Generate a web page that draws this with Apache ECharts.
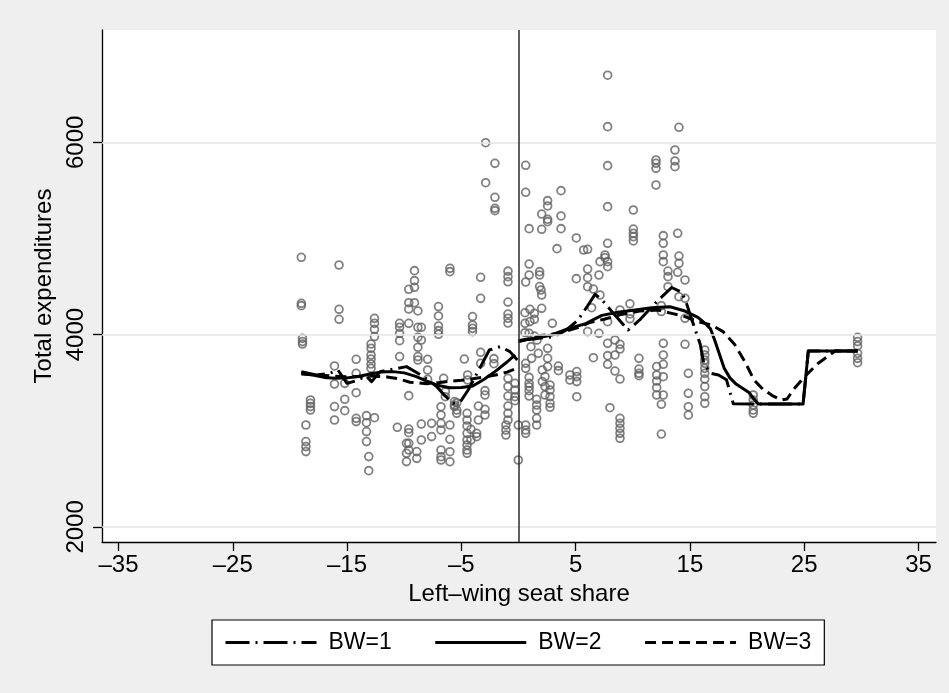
<!DOCTYPE html>
<html><head><meta charset="utf-8">
<script src="https://cdn.jsdelivr.net/npm/echarts@6/dist/echarts.min.js"></script>
<style>html,body{margin:0;padding:0;background:#efefef}#c{width:949px;height:693px}</style>
</head><body><div id="c"></div>
<script>
// ---- tick labels ----
const xTicks = [-35, -25, -15, -5, 5, 15, 25, 35];
const yTicks = [2000, 4000, 6000];
const cutoff = 0;

// ---- scatter: seat-share columns and their expenditure values ----
const columnX = [-19.0,-18.9,-18.6,-18.2,-16.1,-15.7,-15.2,-14.2,-13.3,-13.1,-12.9,-12.6,-10.6,-10.4,-9.8,-9.6,-9.1,-8.9,-8.8,-8.5,-7.95,-7.6,-7.0,-6.78,-6.55,-6.4,-6.0,-5.6,-5.4,-4.74,-4.5,-4.45,-4.16,-4.02,-3.66,-3.51,-3.31,-2.93,-2.87,-2.15,-2.06,-1.1,-0.92,-0.31,-0.02,0.57,0.63,0.93,1.0,1.09,1.15,1.39,1.59,1.62,1.74,1.85,1.97,2.03,2.08,2.32,2.55,2.76,2.96,3.37,3.49,3.72,4.5,5.06,5.1,5.7,6.05,6.4,6.55,7.04,7.13,7.57,7.8,8.0,8.44,8.88,9.75,10.05,10.54,12.03,12.09,12.5,12.67,13.08,13.69,13.93,14.04,14.57,14.86,16.3,20.54,29.67];
const columnY = [
 [4804,4325,4301],[3961,3927,3902],[3060,2887,2835,2783],[3320,3285,3251,3216],
 [3674,3486,3251,3112],[4724,4263,4159],[3493,3327,3209],[3743,3597,3396,3129,3095],
 [3157,3084,2991,2887],[2731,2585],[3902,3857,3788,3746,3694,3649,3563],[4169,4117,4055,3979,3136],
 [3036],[4117,4076,4013,3937,3771],[2869,2765,2679],[4471,4332,4266,4117,3365,3018,2980,2869,2800],
 [4665,4561,4492,4332],[2783,2713],[4246,4076,3972,3868,3771,3736],[4076,3944,3070,2904],
 [3743,3632,3535],[3077,2939],[4291,4194,4090,4041,4003],[3250,3164,3077,3008,2800,2730,2696],
 [3545],[3406,3354],[4689,4655,3060,2911,2782,2678],[3303,3268,3250],[3292,3216,3181],
 [3746],[3181,3112,3050,2973,2904,2852,2800,2765],[3580,3528],[3015,2904],[4187,4100,4065,4031],
 [2973,2938],[3257,3112],[4596,4377,3816,3701],[3417,3372,3223,3164],[5996,5580],[3750,3698],
 [5781,5428,5313,5289],[3060,3008,2956],[4660,4603,4549,4338,4214,4170,4120,3545,3459,3361,3257,3181,3112],
 [3493,3424,3354,3313],[3060,2696],[4228,4117,4020],[5761,5480,4547,3701,3649,3060,3008,2973],
 [5102,4734,4620,4013,3555,3493,3458,3417,3361],[4263,4135],[3874],[3753],[4221,4159,3985],
 [3327,3268,3216,3129,3060],[3944],[3805],[4655,4620,4499],[4464],[5254,5095,4412,4273],[3632,3511],
 [3563,3459,3372],[5393,5338,5199,5175,3857,3753,3667],[3476,3424,3354,3285,3244],[4117],[4894],
 [3673,3625],[5497,5234,5102],[3580,3528],[5005,4582],[3615,3563,3511,3354],[4880],
 [4887,4682,4592,4498,4031],[4280],[4474,3760],[4620,4013],[4759,4412],[4828,4800],
 [6698,6163,5757,5331,4949,4759,4707,4134,3909,3781,3691],[3240],[3944,3788,3621],
 [4256,3899,3850,3538,3129,3077,3025,2973,2921],[4320,4215,4165],[5296,5098,5053,5019,4974],
 [3753,3642,3597,3573],[5816,5781,5729,5556],[3667,3580,3517,3448,3372],[4300,4240,3275,2966],
 [5029,4949,4828,4759,3909,3788,3691,3562,3372],[4661,4603,4498],[5920,5806,5747],[5053,4648],
 [6156,4817,4741,4394],[4568,4377,4169,3899],[3597,3389,3250,3164],
 [3840,3788,3736,3701,3649,3597,3538,3459,3354,3285],[3372,3320,3268,3216,3181],
 [3972,3927,3882,3805,3753,3708]
];

// ---- fitted lines (left and right of the cutoff) ----
const bw1LeftX  = [-19.0,-17.7,-16.6,-15.8,-15.0,-14.2,-13.3,-12.85,-12.1,-11.0,-9.8,-8.3,-7.15,-6.4,-5.7,-5.1,-4.4,-3.4,-2.55,-1.6,-0.75,-0.1];
const bw1LeftY  = [3615,3580,3595,3632,3493,3520,3570,3511,3615,3640,3667,3562,3459,3360,3285,3300,3424,3649,3840,3875,3823,3736];
const bw1RightX = [0.05,1.6,3.05,4.2,5.2,6.05,6.7,7.27,8.3,9.6,10.6,12.1,13.4,14.3,14.7,15.15,15.9,16.2,16.75,17.5,18.2,18.8,24.9,25.36,29.67];
const bw1RightY = [3940,3960,3978,4048,4150,4300,4419,4367,4221,4048,4152,4343,4490,4440,4325,4160,3900,3710,3600,3580,3530,3280,3278,3830,3830];

const bw2LeftX  = [-19.0,-18.0,-17.0,-16.0,-15.0,-14.0,-13.0,-12.0,-11.0,-10.0,-9.0,-8.0,-7.0,-6.0,-5.0,-4.0,-3.0,-2.0,-1.0,-0.3];
const bw2LeftY  = [3600,3580,3555,3545,3550,3565,3590,3612,3615,3602,3565,3515,3470,3448,3450,3465,3535,3620,3715,3790];
const bw2RightX = [0.0,1.4,2.9,4.4,5.8,7.3,8.7,10.2,11.65,13.25,14.57,15.7,16.3,16.8,17.2,17.6,18.0,18.5,19.0,19.5,20.2,20.6,21.0,24.9,25.36,29.67];
const bw2RightY = [3937,3960,3996,4065,4110,4200,4232,4256,4280,4290,4245,4180,4120,4060,3930,3790,3650,3550,3490,3450,3395,3330,3278,3278,3830,3830];

const bw3LeftX  = [-19.0,-17.0,-15.0,-13.0,-11.5,-10.5,-9.5,-8.0,-7.0,-6.0,-5.0,-4.0,-3.0,-2.0,-1.0,-0.15];
const bw3LeftY  = [3590,3575,3560,3570,3560,3540,3505,3490,3500,3515,3525,3540,3560,3580,3610,3650];
const bw3RightX = [0.0,1.9,3.6,5.4,6.2,7.57,9.0,10.6,12.2,13.4,14.57,15.7,16.9,17.9,18.9,19.8,20.6,21.4,22.3,23.0,23.5,24.0,25.1,26.2,27.7,29.67];
const bw3RightY = [3925,3990,4015,4080,4125,4162,4210,4245,4256,4221,4187,4135,4100,4031,3900,3720,3530,3430,3360,3320,3330,3420,3570,3700,3830,3830];

const FONT = "'Liberation Sans', Arial, Helvetica, sans-serif";
const FS = 24;
const pairs = (xs, ys) => xs.map((x, i) => [x, ys[i]]);
const scatterData = [];
columnX.forEach((x, i) => columnY[i].forEach(y => scatterData.push([x, y])));
const fmt = v => String(v).replace('-', '\u2013');

function lineSeries(name, data, type) {
  return {
    name, type: 'line', data, symbol: 'none', showSymbol: false, smooth: false,
    z: 4, animation: false, silent: true,
    lineStyle: { color: '#000', width: 3, type: type, cap: 'butt', join: 'round' },
    itemStyle: { color: '#000' }
  };
}
const dash1 = [24, 6, 2, 6];
const dash3 = [11, 6];

const chart = echarts.init(document.getElementById('c'), null, { renderer: 'canvas' });
chart.setOption({
  backgroundColor: '#efefef',
  animation: false,
  textStyle: { fontFamily: FONT },
  grid: { left: 102, right: 13, top: 30, bottom: 151, show: true, backgroundColor: '#ffffff', borderWidth: 0, containLabel: false },
  xAxis: {
    type: 'value', min: -36.44, max: 36.53,
    name: 'Left\u2013wing seat share', nameLocation: 'middle', nameGap: 39,
    nameTextStyle: { fontSize: FS, color: '#000', fontFamily: FONT },
    axisLine: { show: true, onZero: false, lineStyle: { color: '#000', width: 1.3 } },
    axisTick: { show: true, inside: false, length: 9, customValues: xTicks, lineStyle: { color: '#000', width: 1.3 } },
    axisLabel: { customValues: xTicks, formatter: fmt, fontSize: FS, color: '#000', margin: 11, fontFamily: FONT },
    splitLine: { show: false }
  },
  yAxis: {
    type: 'value', min: 1843, max: 7168,
    name: 'Total expenditures', nameLocation: 'middle', nameGap: 42,
    nameTextStyle: { fontSize: FS, color: '#000', fontFamily: FONT },
    axisLine: { show: true, onZero: false, lineStyle: { color: '#000', width: 1.3 } },
    axisTick: { show: true, inside: false, length: 9, customValues: yTicks, lineStyle: { color: '#000', width: 1.3 } },
    axisLabel: { customValues: yTicks, formatter: v => String(v), rotate: 90, fontSize: FS, color: '#000', margin: 14, fontFamily: FONT },
    splitLine: { show: false }
  },
  legend: {
    data: ['BW=1', 'BW=2', 'BW=3'],
    left: 212, top: 620, orient: 'horizontal',
    padding: [11, 13, 11, 12], itemGap: 42, itemWidth: 91, itemHeight: 14,
    backgroundColor: '#ffffff', borderColor: '#000', borderWidth: 1.2, borderRadius: 0,
    selectedMode: false,
    itemStyle: { opacity: 0, borderWidth: 0 },
    lineStyle: { width: 3 },
    textStyle: { fontSize: 23, color: '#000', fontFamily: FONT, padding: [0, 0, 0, 7] }
  },
  series: [
    {
      name: 'grid', type: 'line', data: [], silent: true, z: 1,
      markLine: {
        silent: true, symbol: ['none', 'none'], label: { show: false }, animation: false,
        lineStyle: { color: '#e4e4e4', width: 1.5, type: 'solid' },
        data: yTicks.map(v => ({ yAxis: v }))
      }
    },
    {
      name: 'Total expenditures', type: 'scatter', data: scatterData, z: 2,
      symbol: 'circle', symbolSize: 7.8, silent: true, animation: false,
      itemStyle: { color: 'rgba(0,0,0,0)', borderColor: '#626262', borderWidth: 1.8 }
    },
    {
      name: 'cutoff', type: 'line', data: [], silent: true, z: 3,
      markLine: {
        silent: true, symbol: ['none', 'none'], label: { show: false }, animation: false,
        lineStyle: { color: '#2b2b2b', width: 1.5, type: 'solid' },
        data: [{ xAxis: cutoff }]
      }
    },
    lineSeries('BW=1', pairs(bw1LeftX, bw1LeftY), dash1),
    lineSeries('BW=1', pairs(bw1RightX, bw1RightY), dash1),
    lineSeries('BW=2', pairs(bw2LeftX, bw2LeftY), 'solid'),
    lineSeries('BW=2', pairs(bw2RightX, bw2RightY), 'solid'),
    lineSeries('BW=3', pairs(bw3LeftX, bw3LeftY), dash3),
    lineSeries('BW=3', pairs(bw3RightX, bw3RightY), dash3)
  ]
});
</script></body></html>
